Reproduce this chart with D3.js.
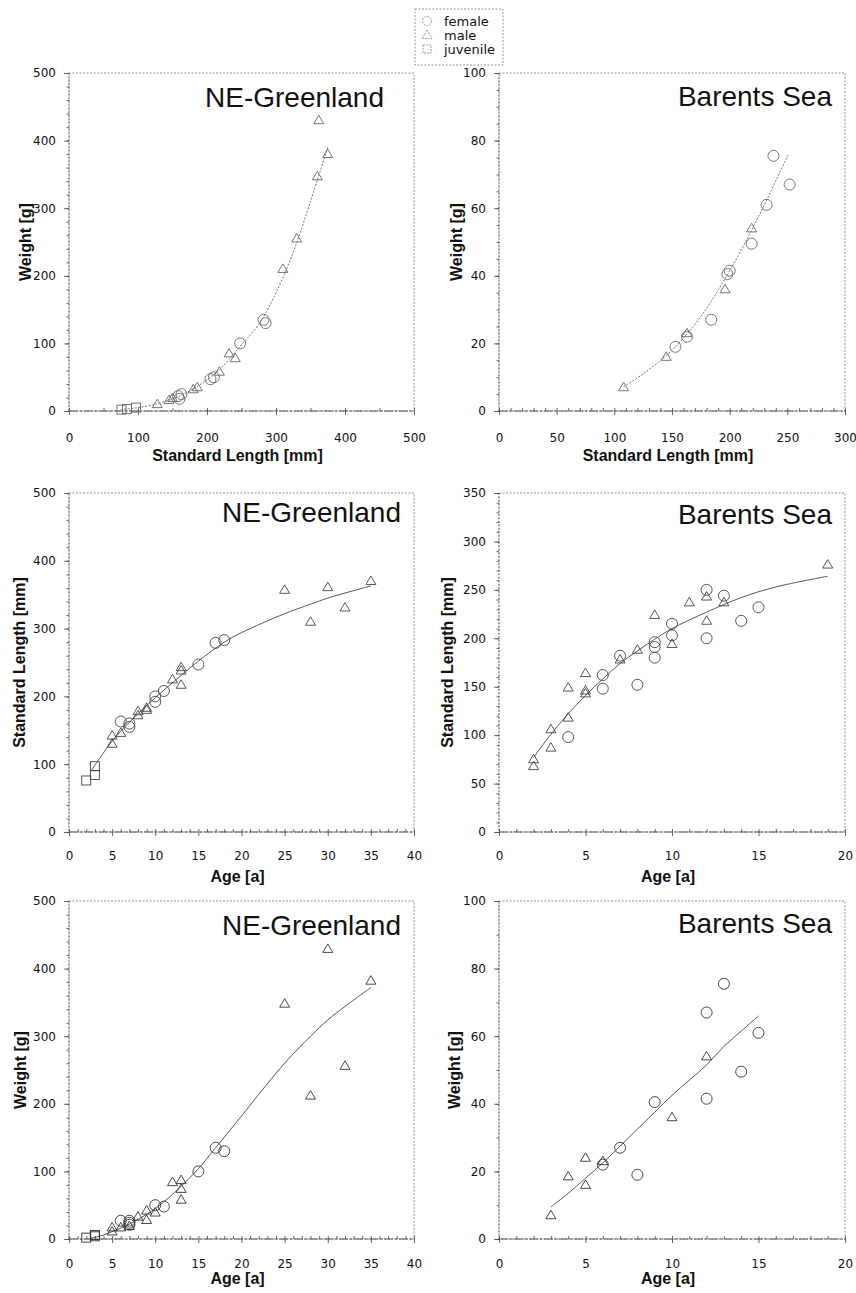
<!DOCTYPE html>
<html><head><meta charset="utf-8">
<script src="https://cdn.jsdelivr.net/npm/d3@7"></script>
<style>
html,body{margin:0;padding:0;background:#fff;}
svg{display:block;}
</style></head>
<body>
<div id="chart"></div>
<script>
// ---------- DATA ----------
// Legend
const legendLabels = ["female", "male", "juvenile"];

// Tick label sets
const ticksW500 = [0, 100, 200, 300, 400, 500];
const ticksW100 = [0, 20, 40, 60, 80, 100];
const ticksSL500 = [0, 100, 200, 300, 400, 500];
const ticksSL300 = [0, 50, 100, 150, 200, 250, 300];
const ticksSL350 = [0, 50, 100, 150, 200, 250, 300, 350];
const ticksAge40 = [0, 5, 10, 15, 20, 25, 30, 35, 40];
const ticksAge20 = [0, 5, 10, 15, 20];

// Panel 1: NE-Greenland, weight [g] vs standard length [mm]
const grWslFemale = [[158,22],[163,25],[160,18],[210,50],[205,47],[248,100],[282,135],[285,130]];
const grWslMale = [[128,10],[145,16],[150,19],[180,32],[186,35],[218,58],[232,85],[241,78],[310,210],[330,255],[360,347],[362,430],[375,380]];
const grWslJuv = [[76,2],[84,3],[97,5]];
const grWslFit = [[75,2],[100,5],[125,10],[150,18],[182,34],[218,61],[250,98],[275,128],[300,175],[325,235],[350,310],[375,390]];

// Panel 2: Barents Sea, weight [g] vs standard length [mm]
const bsWslFemale = [[153,19],[163,22],[184,27],[198,40.5],[200,41.5],[219,49.5],[232,61],[238,75.5],[252,67]];
const bsWslMale = [[108,7],[145,16],[163,23],[196,36],[219,54]];
const bsWslFit = [[108,7.2],[125,11],[150,18],[175,28],[200,41.5],[225,57.5],[251,76]];

// Panel 3: NE-Greenland, standard length [mm] vs age [a]
const grSlaFemale = [[6,163],[7,160],[7,155],[10,200],[10,192],[11,208],[15,247],[17,279],[18,283]];
const grSlaMale = [[5,130],[5,142],[6,146],[8,178],[8,172],[9,183],[9,180],[12,225],[13,243],[13,238],[13,217],[25,357],[28,310],[30,361],[32,331],[35,370]];
const grSlaJuv = [[2,76],[3,97],[3,84]];
const grSlaFit = [[2.5,89],[5,134],[7,162],[10,198],[13,231],[15,252],[18,280],[20,294],[25,322],[28,336],[30,345],[33,356],[35,363]];

// Panel 4: Barents Sea, standard length [mm] vs age [a]
const bsSlaFemale = [[4,98],[6,162],[6,148],[7,182],[8,152],[9,196],[9,191],[9,180],[10,215],[10,203],[12,250],[12,200],[13,244],[14,218],[15,232]];
const bsSlaMale = [[2,75],[2,68],[3,106],[3,87],[4,149],[4,118],[5,164],[5,146],[5,143],[7,178],[8,188],[9,224],[10,194],[11,237],[12,243],[12,218],[13,237],[19,276]];
const bsSlaFit = [[2,77],[3,101],[4,122],[5,141],[6,158],[7,174],[8,187],[9,199],[10,210],[12,227],[14,242],[16,253],[19,264]];

// Panel 5: NE-Greenland, weight [g] vs age [a]
const grWaFemale = [[6,27],[7,27],[7,24],[7,21],[10,50],[11,48],[15,100],[17,135],[18,130]];
const grWaMale = [[5,17],[5,11],[6,17],[7,19],[8,33],[9,42],[9,28],[10,39],[12,84],[13,87],[13,74],[13,58],[25,348],[28,212],[30,429],[32,256],[35,382]];
const grWaJuv = [[2,2],[3,4],[3,6]];
const grWaFit = [[2.5,1],[4,6],[5,11],[6,16],[7,22],[8,29],[10,45],[12,66],[13,78],[15,104],[17,135],[20,182],[22,214],[25,260],[28,300],[30,324],[32,344],[35,372]];

// Panel 6: Barents Sea, weight [g] vs age [a]
const bsWaFemale = [[6,22],[7,27],[8,19],[9,40.5],[12,67],[12,41.5],[13,75.5],[14,49.5],[15,61]];
const bsWaMale = [[3,7],[4,18.5],[5,24],[5,16],[6,23],[10,36],[12,54]];
const bsWaFit = [[3,9.5],[4,13.5],[5,18],[6,22.5],[7,27.5],[8,32.5],[9,37.5],[10,42.5],[11,47],[12,51.5],[13,57],[14,61.5],[15,66]];

// ---------- DRAWING ----------
const W = 856, H = 1293;
const svg = d3.select("#chart").append("svg").attr("width", W).attr("height", H);

const TICK_FONT = "'DejaVu Sans', sans-serif";
const TITLE_FONT = "'Liberation Sans', Arial, sans-serif";

function trianglePath(cx, cy) {
  const hw = 5, h = 8.5;
  return `M${cx},${cy - h*0.6}L${cx + hw},${cy + h*0.4}L${cx - hw},${cy + h*0.4}Z`;
}

function panel(c) {
  const x = d3.scaleLinear().domain([c.xTicks[0], c.xTicks[c.xTicks.length-1]]).range([c.left, c.right]);
  const y = d3.scaleLinear().domain([c.yTicks[0], c.yTicks[c.yTicks.length-1]]).range([c.bottom, c.top]);
  const g = svg.append("g");

  // frame (dotted)
  g.append("rect").attr("x", c.left).attr("y", c.top)
    .attr("width", c.right - c.left).attr("height", c.bottom - c.top)
    .attr("fill", "none").attr("stroke", "#888").attr("stroke-width", 0.9)
    .attr("stroke-dasharray", "2,1.5");
  g.append("line").attr("x1", c.left).attr("x2", c.right).attr("y1", c.bottom).attr("y2", c.bottom)
    .attr("stroke", "#555").attr("stroke-width", 1).attr("stroke-dasharray", "9,1.5,3,1.5");
  g.append("line").attr("x1", c.left).attr("x2", c.left).attr("y1", c.top).attr("y2", c.bottom)
    .attr("stroke", "#777").attr("stroke-width", 0.9).attr("stroke-dasharray", "2,1.5");

  // minor ticks
  const xMin = d3.range(c.xTicks[0], c.xTicks[c.xTicks.length-1] + 1e-9, c.xMinor);
  const yMin = d3.range(c.yTicks[0], c.yTicks[c.yTicks.length-1] + 1e-9, c.yMinor);
  g.append("g").attr("transform", `translate(0,${c.bottom})`)
    .call(d3.axisTop(x).tickValues(xMin).tickSize(3).tickFormat(""))
    .call(s => s.select(".domain").remove())
    .call(s => s.selectAll("line").attr("stroke", "#444").attr("stroke-width", 0.8));
  g.append("g").attr("transform", `translate(${c.left},0)`)
    .call(d3.axisLeft(y).tickValues(yMin).tickSize(2.5).tickFormat(""))
    .call(s => s.select(".domain").remove())
    .call(s => s.selectAll("line").attr("stroke", "#444").attr("stroke-width", 0.8));

  // major ticks
  const ax = g.append("g").attr("transform", `translate(0,${c.bottom})`)
    .call(d3.axisBottom(x).tickValues(c.xTicks).tickSize(4).tickPadding(c.xTickPad).tickFormat(d3.format("d")));
  ax.select(".domain").remove();
  ax.selectAll("line").attr("stroke", "#444").attr("stroke-width", 0.8);
  ax.selectAll("text").attr("font-family", TICK_FONT).attr("font-size", 12).attr("fill", "#111");

  const ay = g.append("g").attr("transform", `translate(${c.left},0)`)
    .call(d3.axisLeft(y).tickValues(c.yTicks).tickSize(5).tickPadding(8).tickFormat(d3.format("d")));
  ay.select(".domain").remove();
  ay.selectAll("line").attr("stroke", "#444").attr("stroke-width", 0.8);
  ay.selectAll("text").attr("font-family", TICK_FONT).attr("font-size", 12).attr("fill", "#111");

  // axis titles
  g.append("text").attr("x", (c.left + c.right)/2 - 4).attr("y", c.bottom + c.xLabelDy)
    .attr("text-anchor", "middle").attr("font-family", TITLE_FONT).attr("font-weight", "bold")
    .attr("font-size", 16).attr("fill", "#111").text(c.xLabel);
  g.append("text").attr("transform", `translate(${c.left - c.yLabelDx},${(c.top + c.bottom)/2}) rotate(-90)`)
    .attr("text-anchor", "middle").attr("font-family", TITLE_FONT).attr("font-weight", "bold")
    .attr("font-size", 16).attr("fill", "#111").text(c.yLabel);

  // panel title
  g.append("text").attr("x", c.right - c.titleInset).attr("y", c.top + c.titleDy)
    .attr("text-anchor", "end").attr("font-family", TITLE_FONT).attr("font-size", 28)
    .attr("fill", "#111").text(c.title);

  // fit line
  const line = d3.line().x(d => x(d[0])).y(d => y(d[1])).curve(d3.curveCatmullRom.alpha(0.5));
  g.append("path").datum(c.fit).attr("d", line).attr("fill", "none")
    .attr("stroke", c.lineColor).attr("stroke-width", 0.9)
    .attr("stroke-dasharray", c.lineDash);

  // markers
  const ms = c.markStroke;
  if (c.juv) {
    g.selectAll(null).data(c.juv).enter().append("rect")
      .attr("x", d => x(d[0]) - 4.5).attr("y", d => y(d[1]) - 4.5)
      .attr("width", 9).attr("height", 9)
      .attr("fill", "none").attr("stroke", ms).attr("stroke-width", 0.9);
  }
  g.selectAll(null).data(c.male).enter().append("path")
    .attr("d", d => trianglePath(x(d[0]), y(d[1])))
    .attr("fill", "none").attr("stroke", ms).attr("stroke-width", 0.9);
  g.selectAll(null).data(c.female).enter().append("circle")
    .attr("cx", d => x(d[0])).attr("cy", d => y(d[1])).attr("r", 5.5)
    .attr("fill", "none").attr("stroke", ms).attr("stroke-width", 0.9);
}

const colL = {left: 69, right: 414};
const colR = {left: 499, right: 845};
const rowT = {top: 73, bottom: 411, xTickPad: 18, xLabelDy: 50};
const rowM = {top: 493, bottom: 832, xTickPad: 15, xLabelDy: 50};
const rowB = {top: 901, bottom: 1239, xTickPad: 16, xLabelDy: 45};

panel({...colL, ...rowT, xTicks: ticksSL500, yTicks: ticksW500, xMinor: 50, yMinor: 20,
  title: "NE-Greenland", titleInset: 30, titleDy: 34, xLabel: "Standard Length [mm]", yLabel: "Weight [g]",
  yLabelDx: 38, female: grWslFemale, male: grWslMale, juv: grWslJuv, fit: grWslFit,
  markStroke: "#666", lineColor: "#666", lineDash: "2,1.5"});
panel({...colR, ...rowT, xTicks: ticksSL300, yTicks: ticksW100, xMinor: 10, yMinor: 5,
  title: "Barents Sea", titleInset: 13, titleDy: 33, xLabel: "Standard Length [mm]", yLabel: "Weight [g]",
  yLabelDx: 37, female: bsWslFemale, male: bsWslMale, juv: null, fit: bsWslFit,
  markStroke: "#666", lineColor: "#666", lineDash: "2,1.5"});
panel({...colL, ...rowM, xTicks: ticksAge40, yTicks: ticksSL500, xMinor: 1, yMinor: 20,
  title: "NE-Greenland", titleInset: 13, titleDy: 29, xLabel: "Age [a]", yLabel: "Standard Length [mm]",
  yLabelDx: 44, female: grSlaFemale, male: grSlaMale, juv: grSlaJuv, fit: grSlaFit,
  markStroke: "#444", lineColor: "#444", lineDash: null});
panel({...colR, ...rowM, xTicks: ticksAge20, yTicks: ticksSL350, xMinor: 1, yMinor: 10,
  title: "Barents Sea", titleInset: 13, titleDy: 31, xLabel: "Age [a]", yLabel: "Standard Length [mm]",
  yLabelDx: 46, female: bsSlaFemale, male: bsSlaMale, juv: null, fit: bsSlaFit,
  markStroke: "#444", lineColor: "#444", lineDash: null});
panel({...colL, ...rowB, xTicks: ticksAge40, yTicks: ticksW500, xMinor: 1, yMinor: 20,
  title: "NE-Greenland", titleInset: 13, titleDy: 34, xLabel: "Age [a]", yLabel: "Weight [g]",
  yLabelDx: 43, female: grWaFemale, male: grWaMale, juv: grWaJuv, fit: grWaFit,
  markStroke: "#333", lineColor: "#444", lineDash: null});
panel({...colR, ...rowB, xTicks: ticksAge20, yTicks: ticksW100, xMinor: 1, yMinor: 10,
  title: "Barents Sea", titleInset: 13, titleDy: 32, xLabel: "Age [a]", yLabel: "Weight [g]",
  yLabelDx: 39, female: bsWaFemale, male: bsWaMale, juv: null, fit: bsWaFit,
  markStroke: "#333", lineColor: "#444", lineDash: null});

// ---------- LEGEND ----------
const lg = svg.append("g");
const lx0 = 415, lx1 = 503, ly0 = 9, ly1 = 65;
lg.append("rect").attr("x", lx0).attr("y", ly0).attr("width", lx1 - lx0).attr("height", ly1 - ly0)
  .attr("fill", "#fff").attr("stroke", "#888").attr("stroke-width", 0.9).attr("stroke-dasharray", "2,1.5");
const rowY = d3.scalePoint().domain(legendLabels).range([21, 49]);
legendLabels.forEach(lab => {
  const cy = rowY(lab), cx = 427;
  if (lab === "female") {
    lg.append("circle").attr("cx", cx).attr("cy", cy).attr("r", 4.5)
      .attr("fill", "none").attr("stroke", "#888").attr("stroke-width", 0.8).attr("stroke-dasharray", "2,1");
  } else if (lab === "male") {
    lg.append("path").attr("d", trianglePath(cx, cy)).attr("fill", "none")
      .attr("stroke", "#888").attr("stroke-width", 0.8).attr("stroke-dasharray", "2,1");
  } else {
    lg.append("rect").attr("x", cx - 4).attr("y", cy - 4).attr("width", 8).attr("height", 8)
      .attr("fill", "none").attr("stroke", "#888").attr("stroke-width", 0.8).attr("stroke-dasharray", "2,1");
  }
  lg.append("text").attr("x", 444).attr("y", cy + 4.5).attr("font-family", TICK_FONT)
    .attr("font-size", 13).attr("fill", "#111").text(lab);
});
</script>
</body></html>
